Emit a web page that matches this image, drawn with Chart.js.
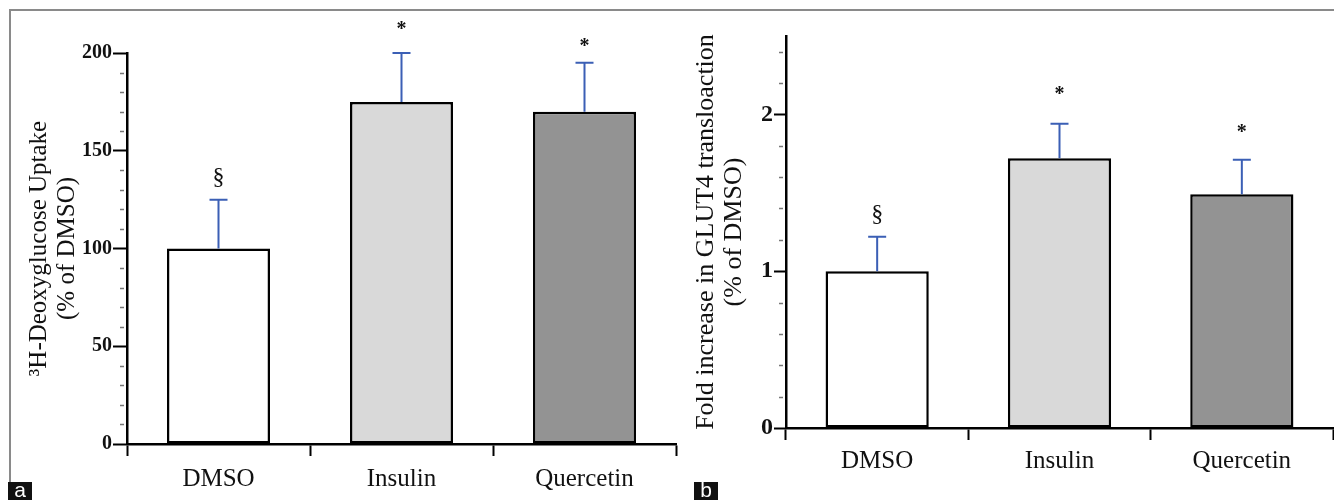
<!DOCTYPE html>
<html>
<head>
<meta charset="utf-8">
<script src="https://cdn.jsdelivr.net/npm/chart.js@4.4.1/dist/chart.umd.min.js"></script>
<style>
  body { margin: 0; background: #fff; }
  #wrap { position: relative; width: 1334px; height: 500px; overflow: hidden; }
  #frame { position: absolute; left: 9px; top: 9px; width: 1330px; height: 473px; border-top: 2px solid #8a8a8a; border-left: 2px solid #8a8a8a; }
  canvas { position: absolute; top: 0; }
  #chartA { left: 0; }
  #chartB { left: 680px; }
  .tag { position: absolute; top: 482px; width: 24px; height: 18px; background: #111; color: #fff; font: 21px 'Liberation Sans', sans-serif; line-height: 16px; text-align: center; }
</style>
</head>
<body>
<div id="wrap">
  <div id="frame"></div>
  <canvas id="chartA" width="690" height="500"></canvas>
  <canvas id="chartB" width="654" height="500"></canvas>
  <div class="tag" style="left:8px">a</div>
  <div class="tag" style="left:694px">b</div>
</div>
<script>
const categories = ['DMSO', 'Insulin', 'Quercetin'];
const barColors = ['#ffffff', '#d9d9d9', '#939393'];

// panel a: 3H-deoxyglucose uptake
const uptakeValues = [100, 175, 170];
const uptakeErrors = [25, 25, 25];
const uptakeMarks = ['§', '*', '*'];
const uptakeMarkLevel = [136, 214, 205];
const uptakeTicks = [0, 50, 100, 150, 200];

// panel b: GLUT4 translocation
const glutValues = [1.0, 1.72, 1.49];
const glutErrors = [0.22, 0.22, 0.22];
const glutMarks = ['§', '*', '*'];
const glutMarkLevel = [1.36, 2.15, 1.91];
const glutTicks = [0, 1, 2];

const serif = 'Liberation Serif';

// error bars, significance marks and minor ticks
const extras = {
  id: 'extras',
  afterDatasetsDraw(chart, args, opts) {
    const ctx = chart.ctx;
    const y = chart.scales.y;
    const bars = chart.getDatasetMeta(0).data;
    ctx.save();

    ctx.strokeStyle = '#777';
    ctx.lineWidth = 1.5;
    const n = Math.floor(y.max / opts.minorStep + 1e-6);
    for (let k = 0; k <= n; k++) {
      const v = k * opts.minorStep;
      if (opts.majors.some(m => Math.abs(m - v) < 1e-6)) continue;
      const py = Math.round(y.getPixelForValue(v)) + 0.5;
      ctx.beginPath();
      ctx.moveTo(y.right - 7, py);
      ctx.lineTo(y.right - 3, py);
      ctx.stroke();
    }

    ctx.strokeStyle = '#3b5fb5';
    ctx.lineWidth = 2;
    bars.forEach((bar, i) => {
      const top = y.getPixelForValue(opts.values[i] + opts.errors[i]);
      ctx.beginPath();
      ctx.moveTo(bar.x, bar.y);
      ctx.lineTo(bar.x, top);
      ctx.moveTo(bar.x - 9, top);
      ctx.lineTo(bar.x + 9, top);
      ctx.stroke();
    });

    ctx.fillStyle = '#111';
    ctx.textAlign = 'center';
    ctx.textBaseline = 'middle';
    bars.forEach((bar, i) => {
      const m = opts.marks[i];
      ctx.font = m === '*' ? 'bold 20px ' + serif : '24px ' + serif;
      ctx.fillText(m, bar.x, y.getPixelForValue(opts.markLevel[i]) + (m === '*' ? 4 : 0));
    });
    ctx.restore();
  }
};

function makeChart(id, p) {
  return new Chart(document.getElementById(id), {
    type: 'bar',
    data: {
      labels: categories,
      datasets: [{
        data: p.values,
        backgroundColor: barColors,
        borderColor: '#000',
        borderWidth: 2.5,
        borderSkipped: false,
        barPercentage: 1,
        categoryPercentage: p.barFrac
      }]
    },
    options: {
      responsive: false,
      animation: false,
      devicePixelRatio: 1,
      layout: { padding: p.padding },
      plugins: {
        legend: { display: false },
        tooltip: { enabled: false },
        extras: {
          values: p.values, errors: p.errors, marks: p.marks, markLevel: p.markLevel,
          majors: p.ticks, minorStep: p.minorStep
        }
      },
      scales: {
        x: {
          afterFit: s => { s.height = p.xHeight; },
          border: { color: '#000', width: 2.5 },
          grid: { drawOnChartArea: false, offset: true, tickLength: 12, tickWidth: 2, tickColor: '#000' },
          ticks: { padding: p.xPad, color: '#111', font: { family: serif, size: 25 } }
        },
        y: {
          min: 0,
          max: p.max,
          afterFit: s => { s.width = p.yWidth; },
          border: { color: '#000', width: 2.5 },
          grid: {
            drawOnChartArea: false,
            tickLength: p.majorLen,
            tickWidth: 2,
            tickColor: c => p.ticks.includes(c.tick.value) ? '#000' : 'rgba(0,0,0,0)'
          },
          ticks: {
            stepSize: p.step,
            autoSkip: false,
            padding: 1,
            color: '#111',
            font: { family: serif, size: p.tickSize, weight: 'bold' },
            callback: v => p.ticks.includes(v) ? v : ''
          },
          title: {
            display: true,
            text: p.title,
            color: '#111',
            font: { family: serif, size: p.titleSize, lineHeight: p.titleLine },
            padding: { top: p.titlePad, bottom: 0 }
          }
        }
      }
    },
    plugins: [extras]
  });
}

makeChart('chartA', {
  values: uptakeValues, errors: uptakeErrors, marks: uptakeMarks, markLevel: uptakeMarkLevel,
  ticks: uptakeTicks, max: 200, step: 50, minorStep: 10,
  title: ['\u00b3H-Deoxyglucose Uptake', '(% of DMSO)'],
  titleSize: 25, titleLine: 1.1, titlePad: 26,
  tickSize: 20, majorLen: 14,
  yWidth: 127, xHeight: 56, xPad: 8, barFrac: 0.563,
  padding: { left: 0, top: 53, right: 14, bottom: 0 }
});

makeChart('chartB', {
  values: glutValues, errors: glutErrors, marks: glutMarks, markLevel: glutMarkLevel,
  ticks: glutTicks, max: 2.5, step: 0.5, minorStep: 0.2,
  title: ['Fold increase in GLUT4 transloaction', '(% of DMSO)'],
  titleSize: 26, titleLine: 1.08, titlePad: 12,
  tickSize: 24, majorLen: 12,
  yWidth: 106, xHeight: 72, xPad: 6, barFrac: 0.566,
  padding: { left: 0, top: 36, right: 1, bottom: 0 }
});
</script>
</body>
</html>
